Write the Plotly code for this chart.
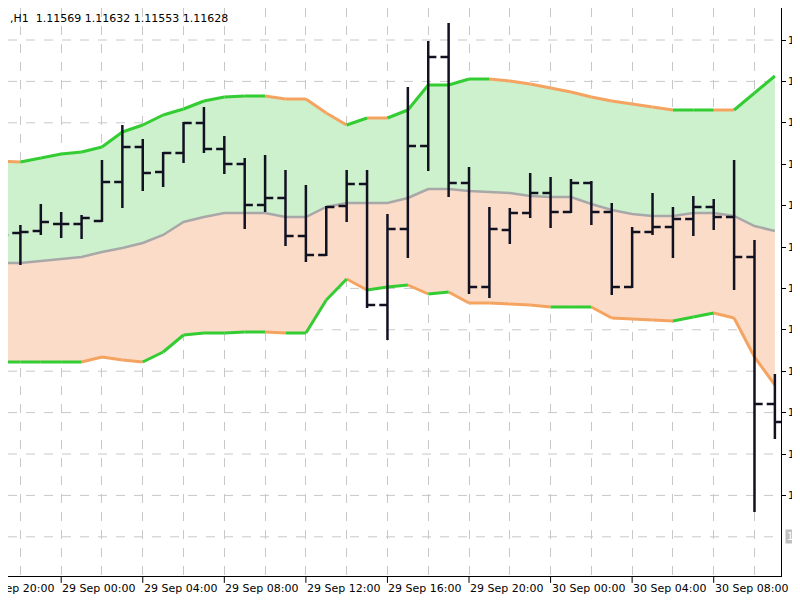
import plotly.graph_objects as go
import pandas as pd

times = pd.date_range("2019-09-28 21:00", periods=39, freq="h")

opens = [1.11808,1.11807,1.11809,1.11816,1.11816,1.11819,1.11858,1.11893,1.11868,1.11887,
         1.11917,1.11891,1.11876,1.11835,1.11842,1.11804,1.11785,1.11834,1.11856,1.11735,
         1.11811,1.11894,1.11983,1.11857,1.11753,1.11810,1.11827,1.11847,1.11828,1.11857,
         1.11828,1.11753,1.11808,1.11813,1.11821,1.11833,1.11823,1.11783,1.11636]
highs = [1.11843,1.11815,1.11836,1.11828,1.11825,1.11880,1.11915,1.11901,1.11888,1.11918,
         1.11933,1.11904,1.11882,1.11885,1.11870,1.11855,1.11834,1.11870,1.11870,1.11826,
         1.11953,1.11999,1.12017,1.11873,1.11833,1.11832,1.11867,1.11863,1.11861,1.11859,
         1.11837,1.11813,1.11847,1.11833,1.11844,1.11841,1.11880,1.11800,1.11666]
lows = [1.11778,1.11775,1.11805,1.11802,1.11801,1.11818,1.11832,1.11849,1.11853,1.11877,
        1.11887,1.11866,1.11811,1.11828,1.11794,1.11778,1.11784,1.11818,1.11732,1.11700,
        1.11782,1.11869,1.11843,1.11746,1.11742,1.11796,1.11822,1.11812,1.11827,1.11815,
        1.11745,1.11752,1.11805,1.11782,1.11804,1.11810,1.11750,1.11528,1.11601]
closes = [1.11805,1.11808,1.11818,1.11816,1.11822,1.11858,1.11893,1.11867,1.11887,1.11917,
          1.11891,1.11876,1.11835,1.11842,1.11804,1.11785,1.11833,1.11856,1.11735,1.11811,
          1.11894,1.11983,1.11857,1.11753,1.11811,1.11827,1.11847,1.11828,1.11857,1.11828,
          1.11753,1.11808,1.11813,1.11821,1.11833,1.11823,1.11783,1.11636,1.11618]

upper = [1.11879,1.11878,1.11882,1.11886,1.11888,1.11893,1.11908,1.11915,1.11925,1.11931,
         1.11939,1.11943,1.11944,1.11944,1.11941,1.11941,1.11927,1.11915,1.11922,1.11922,
         1.11930,1.11955,1.11955,1.11961,1.11961,1.11959,1.11956,1.11952,1.11948,1.11943,
         1.11939,1.11936,1.11933,1.11930,1.11930,1.11930,1.11930,1.11947,1.11964]
middle = [1.11777,1.11777,1.11779,1.11781,1.11783,1.11788,1.11792,1.11797,1.11805,1.11818,
          1.11823,1.11827,1.11827,1.11827,1.11823,1.11823,1.11833,1.11837,1.11837,1.11837,
          1.11842,1.11851,1.11851,1.11849,1.11848,1.11847,1.11844,1.11843,1.11843,1.11836,
          1.11830,1.11826,1.11824,1.11824,1.11827,1.11827,1.11824,1.11814,1.11809]
lower = [1.11678,1.11678,1.11678,1.11678,1.11678,1.11683,1.11680,1.11678,1.11688,1.11705,
         1.11707,1.11707,1.11708,1.11708,1.11707,1.11707,1.11740,1.11761,1.11750,1.11753,
         1.11755,1.11746,1.11748,1.11737,1.11737,1.11736,1.11735,1.11733,1.11733,1.11733,
         1.11722,1.11721,1.11720,1.11719,1.11723,1.11727,1.11722,1.11683,1.11655]

# segment trend state: g = rising colour, o = falling colour
upper_seg = "o" + "g"*12 + "o"*4 + "g" + "o" + "g"*5 + "o"*9 + "gg" + "o" + "gg"
lower_seg = "g"*4 + "o"*3 + "g"*6 + "o" + "g"*3 + "o" + "gg" + "o" + "g" + "o"*5 + "gg" + "o"*4 + "gg" + "ooo"

header = ",H1  1.11569 1.11632 1.11553 1.11628"
xlabels = ["28 Sep 20:00","29 Sep 00:00","29 Sep 04:00","29 Sep 08:00","29 Sep 12:00",
           "29 Sep 16:00","29 Sep 20:00","30 Sep 00:00","30 Sep 04:00","30 Sep 08:00"]
xlabel_times = pd.date_range("2019-09-28 20:00", periods=10, freq="4h")

GREEN = "#33cc33"
ORANGE = "#f4a460"
fig = go.Figure()
fig.add_trace(go.Scatter(x=times, y=middle, mode="lines", line=dict(width=0), hoverinfo="skip"))
fig.add_trace(go.Scatter(x=times, y=upper, mode="lines", line=dict(width=0), fill="tonexty",
                         fillcolor="#cdf0cd", hoverinfo="skip"))
fig.add_trace(go.Scatter(x=times, y=middle, mode="lines", line=dict(width=0), hoverinfo="skip"))
fig.add_trace(go.Scatter(x=times, y=lower, mode="lines", line=dict(width=0), fill="tonexty",
                         fillcolor="#fbdcc8", hoverinfo="skip"))
fig.add_trace(go.Scatter(x=times, y=middle, mode="lines", line=dict(color="#a8a8a8", width=2.5)))

def seg_trace(vals, segs, key, color):
    xs, ys = [], []
    for j, s in enumerate(segs):
        if s == key:
            xs += [times[j], times[j+1], None]
            ys += [vals[j], vals[j+1], None]
    return go.Scatter(x=xs, y=ys, mode="lines", line=dict(color=color, width=3), connectgaps=False)

for vals, segs in ((upper, upper_seg), (lower, lower_seg)):
    fig.add_trace(seg_trace(vals, segs, "o", ORANGE))
    fig.add_trace(seg_trace(vals, segs, "g", GREEN))

half = pd.Timedelta(minutes=24)
bx, by = [], []
for t, o, h, l, c in zip(times, opens, highs, lows, closes):
    bx += [t, t, None, t - half, t, None, t, t + half, None]
    by += [h, l, None, o, o, None, c, c, None]
fig.add_trace(go.Scatter(x=bx, y=by, mode="lines", line=dict(color="#111122", width=2.5)))

step = 0.000414
tickvals = [1.12000 - k*step for k in range(12)]
gridvals = tickvals + [1.12000 - 12*step]

x0 = pd.Timestamp("2019-09-28 21:23:30")
x1 = pd.Timestamp("2019-09-30 11:18")
for g in gridvals:
    fig.add_shape(type="line", xref="paper", x0=0, x1=1, y0=g, y1=g,
                  line=dict(color="#c8c8c8", width=1, dash="dash"), layer="below")

fig.update_layout(
    width=800, height=600, showlegend=False,
    margin=dict(l=0, r=27, t=0, b=32, autoexpand=False),
    plot_bgcolor="white", paper_bgcolor="white",
    font=dict(family="DejaVu Sans", size=11, color="black"),
    xaxis=dict(range=[x0, x1], showticklabels=False, automargin=False,
               tick0="2019-09-28 22:00", dtick=7200000, showgrid=True,
               gridcolor="#c8c8c8", griddash="dash", gridwidth=1,
               showline=True, linecolor="black", linewidth=1, zeroline=False),
    yaxis=dict(range=[1.11464, 1.12032], side="right", tickvals=tickvals, automargin=False,
               ticktext=["1."]*len(tickvals), ticks="outside", ticklen=4, tickcolor="black",
               tickfont=dict(size=10),
               showgrid=False, showline=True, linecolor="black", linewidth=1, zeroline=False),
)
span = (x1 - x0)
for t, lab in zip(xlabel_times, xlabels):
    xp = (t - x0) / span
    fig.add_annotation(x=xp, xref="paper", y=0, yref="paper", yshift=-4, text=lab, showarrow=False,
                       xanchor="left", yanchor="top", xshift=-1, font=dict(size=11))
    if xp >= 0:
        fig.add_shape(type="line", x0=t, x1=t, yref="paper", y0=0, y1=-0.012,
                      line=dict(color="black", width=1))
fig.add_annotation(x=1, xref="paper", y=1.12000 - 12*step, text="1.", showarrow=False,
                   xanchor="left", xshift=4, bgcolor="#c0c0c0", font=dict(color="white", size=10))
fig.add_annotation(x=0, xref="paper", y=1, yref="paper", yshift=-2, text=header, showarrow=False,
                   xanchor="left", yanchor="top", font=dict(size=11))
fig.write_html("out.html")
